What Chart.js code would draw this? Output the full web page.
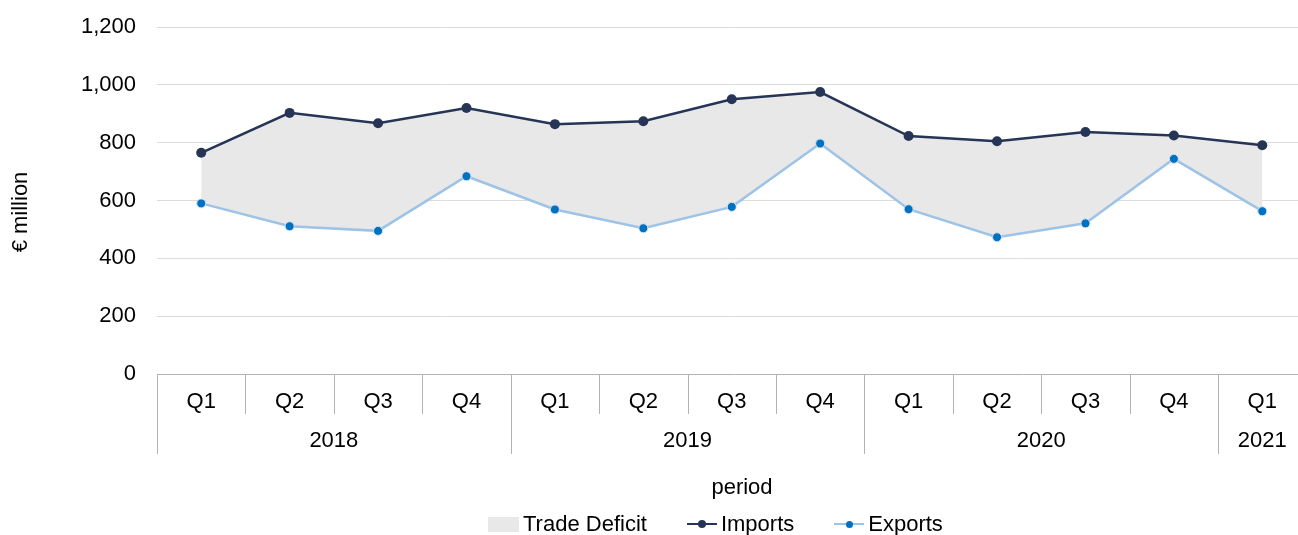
<!DOCTYPE html>
<html>
<head>
<meta charset="utf-8">
<script src="https://cdn.jsdelivr.net/npm/chart.js@4.4.1/dist/chart.umd.min.js"></script>
<style>
    html, body { margin: 0; padding: 0; background: #fff; overflow: hidden; }
    #wrap { position: absolute; left: 0; top: 0; width: 1312px; height: 535px; }
    #legend {
        position: absolute; left: 488px; top: 512px;
        display: flex; align-items: center; white-space: nowrap;
        font-family: Arial, 'Liberation Sans', sans-serif; font-size: 22px; line-height: 24px; color: #000;
    }
</style>
</head>
<body>
<div id="wrap"><canvas id="trade-chart"></canvas></div>
<div id="legend"></div>
<script>
// data
const quarters = ['Q1', 'Q2', 'Q3', 'Q4', 'Q1', 'Q2', 'Q3', 'Q4', 'Q1', 'Q2', 'Q3', 'Q4', 'Q1'];
const yearLabels = ['2018', '2019', '2020', '2021'];
const quartersPerYear = [4, 4, 4, 1];
const importsData = [765, 903, 867, 920, 864, 874, 950, 975, 823, 805, 837, 825, 791];
const exportsData = [590, 511, 495, 684, 569, 504, 578, 797, 570, 473, 521, 744, 563];
const yMax = 1200;
const yStep = 200;

const FONT = "Arial, 'Liberation Sans', sans-serif";
const AXIS_GREY = '#b4b4b4';

// category labels like "Q1 2018"
const labels = [];
yearLabels.forEach((y, i) => {
    for (let k = 0; k < quartersPerYear[i]; k++) labels.push(quarters[labels.length] + ' ' + y);
});

// draws the two-level category axis and the axis titles
const groupedAxis = {
    id: 'groupedAxis',
    afterDraw(chart) {
        const { ctx, chartArea } = chart;
        const x = chart.scales.x;
        const half = (x.getPixelForValue(1) - x.getPixelForValue(0)) / 2;
        const bottom = chartArea.bottom;

        ctx.save();
        ctx.strokeStyle = AXIS_GREY;
        ctx.lineWidth = 1;
        ctx.beginPath();
        ctx.moveTo(chartArea.left, bottom + 0.5);
        ctx.lineTo(chart.width, bottom + 0.5);
        ctx.stroke();

        ctx.fillStyle = '#000';
        ctx.font = '22px ' + FONT;
        ctx.textAlign = 'center';
        ctx.textBaseline = 'middle';

        let idx = 0;
        yearLabels.forEach((year, yi) => {
            const first = idx;
            for (let k = 0; k < quartersPerYear[yi]; k++) {
                const cx = x.getPixelForValue(idx);
                const lx = Math.round(cx - half) + 0.5;
                ctx.beginPath();
                ctx.moveTo(lx, bottom);
                ctx.lineTo(lx, bottom + (k === 0 ? 80 : 40));
                ctx.stroke();
                ctx.fillText(quarters[idx], cx, bottom + 28);
                idx++;
            }
            const yc = (x.getPixelForValue(first) + x.getPixelForValue(idx - 1)) / 2;
            ctx.fillText(year, yc, bottom + 67);
        });

        // axis titles
        ctx.fillText('period', 742, 488);
        ctx.translate(21, 212);
        ctx.rotate(-Math.PI / 2);
        ctx.fillText('€ million', 0, 0);
        ctx.restore();
    }
};

const tradeChart = new Chart(document.getElementById('trade-chart').getContext('2d'), {
    type: 'line',
    data: {
        labels: labels,
        datasets: [{
            label: 'Imports',
            data: importsData,
            borderColor: '#263556',
            borderWidth: 2.5,
            backgroundColor: '#e8e8e8',
            fill: '+1',
            tension: 0,
            pointRadius: 5,
            pointBackgroundColor: '#263556',
            pointBorderWidth: 0
        }, {
            label: 'Exports',
            data: exportsData,
            borderColor: '#9dc3e6',
            borderWidth: 2.5,
            fill: false,
            tension: 0,
            pointRadius: 4.5,
            pointBackgroundColor: '#0070c0',
            pointBorderColor: '#d2e5f6',
            pointBorderWidth: 1
        }]
    },
    options: {
        responsive: true,
        maintainAspectRatio: false,
        animation: false,
        layout: { padding: { top: 27, bottom: 153, right: 2, left: 0 } },
        plugins: {
            legend: { display: false },
            tooltip: { enabled: false },
            filler: { drawTime: 'beforeDatasetsDraw' }
        },
        scales: {
            x: {
                offset: true,
                ticks: { display: false },
                grid: { display: false },
                border: { display: false }
            },
            y: {
                min: 0,
                max: yMax,
                border: { display: false },
                grid: {
                    color: (c) => c.tick.value === 0 ? 'transparent' : '#dcdcdc',
                    drawTicks: false
                },
                ticks: {
                    stepSize: yStep,
                    padding: 21,
                    color: '#000',
                    font: { size: 22, family: FONT }
                },
                afterFit: (scale) => {
                    scale.width = 157;
                    scale.paddingTop = 0;
                    scale.paddingBottom = 0;
                }
            }
        }
    },
    plugins: [groupedAxis]
});

// HTML legend
const legend = document.getElementById('legend');
const addItem = (marker, text, gap) => {
    const item = document.createElement('span');
    item.style.display = 'inline-flex';
    item.style.alignItems = 'center';
    item.style.marginRight = gap + 'px';
    item.appendChild(marker);
    const t = document.createElement('span');
    t.textContent = text;
    item.appendChild(t);
    legend.appendChild(item);
};

const swatch = document.createElement('span');
swatch.style.width = '31px';
swatch.style.height = '15px';
swatch.style.background = '#e8e8e8';
swatch.style.marginRight = '4px';
addItem(swatch, 'Trade Deficit', 40);

tradeChart.data.datasets.forEach((ds, i) => {
    const m = document.createElement('span');
    m.style.position = 'relative';
    m.style.width = '30px';
    m.style.height = '12px';
    m.style.marginRight = '4px';
    const line = document.createElement('span');
    line.style.position = 'absolute';
    line.style.left = '0';
    line.style.top = '5px';
    line.style.width = '30px';
    line.style.height = '2px';
    line.style.background = ds.borderColor;
    const dot = document.createElement('span');
    const r = ds.pointRadius - 1;
    dot.style.position = 'absolute';
    dot.style.left = (15 - r) + 'px';
    dot.style.top = (6 - r) + 'px';
    dot.style.width = (2 * r) + 'px';
    dot.style.height = (2 * r) + 'px';
    dot.style.borderRadius = '50%';
    dot.style.background = ds.pointBackgroundColor;
    m.appendChild(line);
    m.appendChild(dot);
    addItem(m, ds.label, i === 0 ? 40 : 0);
});
</script>
</body>
</html>
